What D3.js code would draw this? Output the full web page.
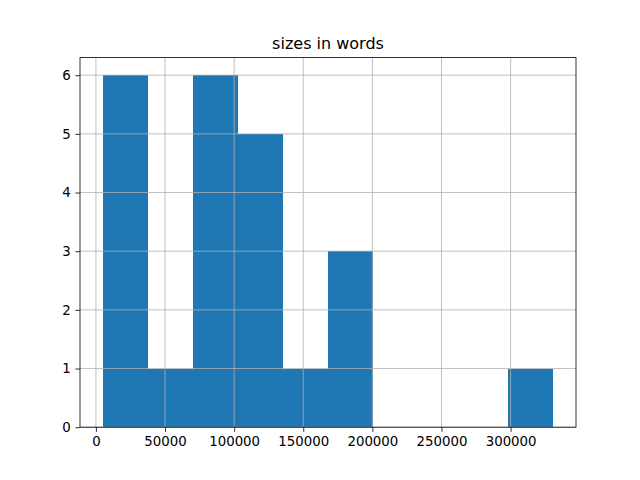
<!DOCTYPE html>
<html>
<head>
<meta charset="utf-8">
<script src="https://cdn.jsdelivr.net/npm/d3@7"></script>
<style>
  body { margin: 0; background: #fff; }
  text { font-family: "DejaVu Sans", sans-serif; }
</style>
</head>
<body>
<div id="chart"></div>
<script>
// histogram of text sizes (words), 10 bins
var minSize = 4800, maxSize = 331000;
var binCounts = [6, 1, 6, 5, 1, 3, 0, 0, 0, 1];
var xTicks = [0, 50000, 100000, 150000, 200000, 250000, 300000];
var yTicks = [0, 1, 2, 3, 4, 5, 6];
var title = "sizes in words";

var W = 640, H = 480;
var margin = {top: 57.6, right: 64, bottom: 52.8, left: 80};
var width = W - margin.left - margin.right,
    height = H - margin.top - margin.bottom;
var tickLen = 4.67, pad = 4.67;

var binWidth = (maxSize - minSize) / binCounts.length;
var bins = binCounts.map(function (c, i) {
  return {x0: minSize + i * binWidth, x1: minSize + (i + 1) * binWidth, count: c};
});

var span = maxSize - minSize;
var xScale = d3.scaleLinear()
  .domain([minSize - span * 0.05, maxSize + span * 0.05])
  .range([0, width]);
var yScale = d3.scaleLinear()
  .domain([0, d3.max(binCounts) * 1.05])
  .range([height, 0]);

var svg = d3.select("#chart").append("svg")
  .attr("width", W).attr("height", H);

var g = svg.append("g")
  .attr("transform", "translate(" + margin.left + "," + margin.top + ")");

// bars
g.selectAll("rect.bar")
  .data(bins)
  .enter()
  .append("rect")
  .attr("class", "bar")
  .attr("x", function (d) { return xScale(d.x0); })
  .attr("width", function (d) { return xScale(d.x1) - xScale(d.x0); })
  .attr("y", function (d) { return yScale(d.count); })
  .attr("height", function (d) { return height - yScale(d.count); })
  .attr("fill", "#1f77b4")
  .attr("shape-rendering", "crispEdges");

// grid on top of bars (matplotlib default)
var grid = g.append("g").attr("class", "grid");
grid.selectAll("line.vx")
  .data(xTicks).enter().append("line")
  .attr("x1", function (d) { return xScale(d); })
  .attr("x2", function (d) { return xScale(d); })
  .attr("y1", 0).attr("y2", height)
  .attr("stroke", "#b0b0b0").attr("stroke-width", 0.8);
grid.selectAll("line.hy")
  .data(yTicks).enter().append("line")
  .attr("y1", function (d) { return yScale(d); })
  .attr("y2", function (d) { return yScale(d); })
  .attr("x1", 0).attr("x2", width)
  .attr("stroke", "#b0b0b0").attr("stroke-width", 0.8);

// axes
var xAxis = d3.axisBottom(xScale).tickValues(xTicks)
  .tickSize(tickLen).tickPadding(pad).tickFormat(d3.format("d"));
var yAxis = d3.axisLeft(yScale).tickValues(yTicks)
  .tickSize(tickLen).tickPadding(pad).tickFormat(d3.format("d"));

var gx = g.append("g")
  .attr("transform", "translate(0," + height + ")")
  .call(xAxis);
var gy = g.append("g").call(yAxis);

[gx, gy].forEach(function (a) {
  a.select(".domain").remove();
  a.selectAll(".tick line").attr("stroke", "#000").attr("stroke-width", 0.8);
  a.selectAll(".tick text")
    .attr("fill", "#000")
    .style("font-size", "13.33px")
    .style("font-family", "'DejaVu Sans', sans-serif");
});

// spines
g.append("rect")
  .attr("x", 0).attr("y", 0)
  .attr("width", width).attr("height", height)
  .attr("fill", "none").attr("stroke", "#000").attr("stroke-width", 0.8);

// title
g.append("text")
  .attr("x", width / 2)
  .attr("y", -9)
  .attr("text-anchor", "middle")
  .style("font-size", "16px")
  .text(title);
</script>
</body>
</html>
